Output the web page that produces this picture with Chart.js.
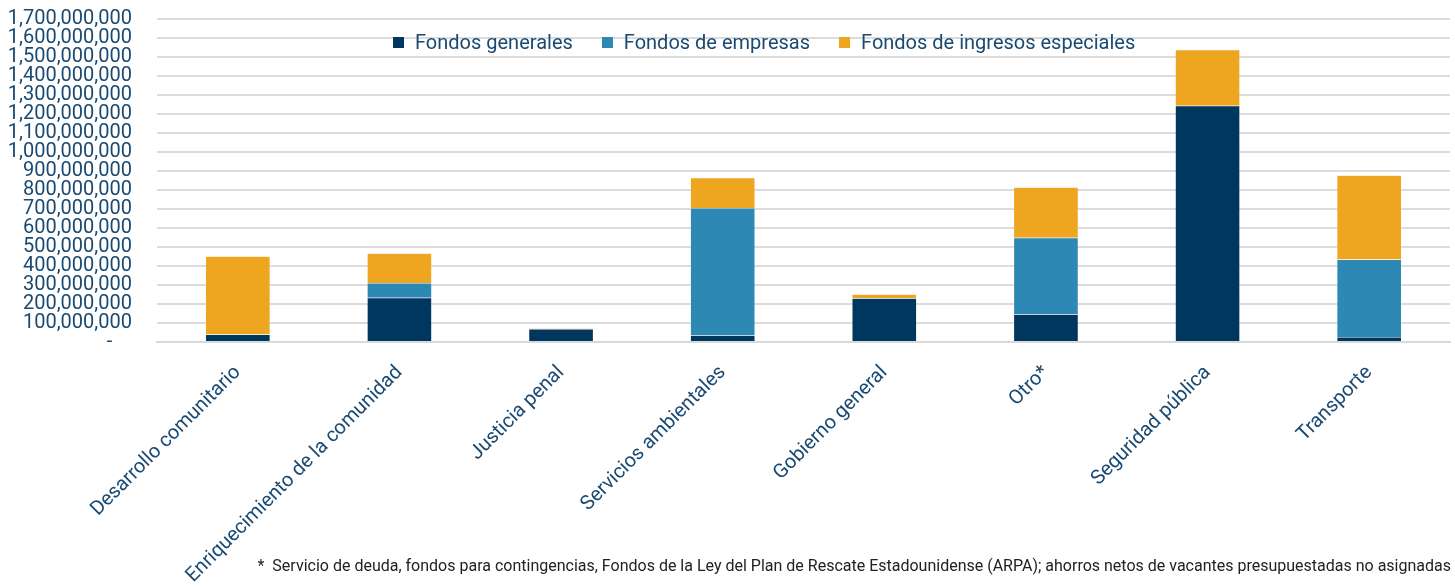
<!DOCTYPE html>
<html>
<head>
<meta charset="utf-8">
<script src="https://cdn.jsdelivr.net/npm/chart.js@4"></script>
<style>
  body { margin: 0; background: #fff; font-family: Roboto, sans-serif; }
  .wrap { position: relative; width: 1455px; height: 587px; overflow: hidden; }
  #chart { position: absolute; left: 0; top: -18px; }
  #legend { position: absolute; left: 393px; top: 30px; display: flex; gap: 29px; font-size: 20px; color: #1A4A72; }
  #legend span.item { display: flex; align-items: center; }
  #legend i { display: inline-block; width: 11px; height: 11px; margin-right: 11px; }
  #note { position: absolute; right: 4px; top: 556px; font-size: 16px; color: #222; white-space: nowrap; }
</style>
</head>
<body>
<div class="wrap">
  <canvas id="chart" width="1455" height="605"></canvas>
  <div id="legend"></div>
  <div id="note">*&nbsp; Servicio de deuda, fondos para contingencias, Fondos de la Ley del Plan de Rescate Estadounidense (ARPA); ahorros netos de vacantes presupuestadas no asignadas</div>
</div>
<script>
const categories = [
  "Desarrollo comunitario",
  "Enriquecimiento de la comunidad",
  "Justicia penal",
  "Servicios ambientales",
  "Gobierno general",
  "Otro*",
  "Seguridad pública",
  "Transporte"
];
// values
const fondosGenerales = [40e6, 233e6, 68e6, 35e6, 230e6, 146e6, 1243e6, 26e6];
const fondosEmpresas = [0, 77e6, 0, 670e6, 0, 403e6, 0, 408e6];
const fondosEspeciales = [411e6, 157e6, 4e6, 159e6, 21e6, 266e6, 295e6, 444e6];

const textColor = "#1A4A72";

const datasets = [
  { label: "Fondos generales", data: fondosGenerales, backgroundColor: "#00375F" },
  { label: "Fondos de empresas", data: fondosEmpresas, backgroundColor: "#2D88B3" },
  { label: "Fondos de ingresos especiales", data: fondosEspeciales, backgroundColor: "#EEA520" }
].map(d => ({ ...d, borderColor: "rgba(255,255,255,0.4)", borderWidth: 0.5, barPercentage: 0.4, categoryPercentage: 1 }));

new Chart(document.getElementById("chart"), {
  type: "bar",
  data: { labels: categories, datasets },
  options: {
    responsive: false,
    animation: false,
    layout: { padding: { top: 6, right: 5, left: 0, bottom: 0 } },
    plugins: { legend: { display: false }, tooltip: { enabled: false } },
    scales: {
      x: {
        stacked: true,
        grid: { display: false },
        border: { color: "#D9D9D9", width: 2 },
        ticks: {
          color: textColor,
          font: { family: "Roboto", size: 20 },
          maxRotation: 45,
          minRotation: 45,
          autoSkip: false,
          padding: 11
        },
        afterFit: (scale) => { scale.height = 245; }
      },
      y: {
        stacked: true,
        min: 0,
        max: 1700000000,
        grid: { color: "#DCDCDC", lineWidth: 2, drawTicks: false },
        border: { display: false },
        ticks: {
          stepSize: 100000000,
          autoSkip: false,
          color: textColor,
          font: { family: "Roboto", size: 20 },
          padding: 25,
          callback: (v) => v === 0 ? "-    " : v.toLocaleString("en-US")
        },
        afterFit: (scale) => { scale.width = 157; }
      }
    }
  }
});

// legend from the datasets
const legend = document.getElementById("legend");
datasets.forEach(d => {
  const item = document.createElement("span");
  item.className = "item";
  item.innerHTML = `<i style="background:${d.backgroundColor}"></i>${d.label}`;
  legend.appendChild(item);
});
</script>
</body>
</html>
